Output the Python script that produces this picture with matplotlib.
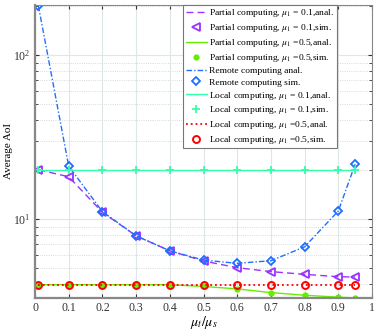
import numpy as np
import matplotlib.pyplot as plt
from matplotlib.ticker import LogLocator, NullFormatter

plt.rcParams['font.family'] = ['Liberation Serif', 'DejaVu Serif']
plt.rcParams['mathtext.fontset'] = 'stix'

# x values (mu_t / mu_s)
x = [0.01, 0.1, 0.2, 0.3, 0.4, 0.5, 0.6, 0.7, 0.8, 0.9, 0.95]
xticks = [0, 0.1, 0.2, 0.3, 0.4, 0.5, 0.6, 0.7, 0.8, 0.9, 1]
xticklabels = ['0', '0.1', '0.2', '0.3', '0.4', '0.5', '0.6', '0.7', '0.8', '0.9', '1']

# average AoI
partial_01 = [20.0, 18.1, 11.0, 7.9, 6.4, 5.55, 5.05, 4.78, 4.6, 4.45, 4.43]
partial_05 = [3.98, 3.98, 3.98, 3.98, 3.98, 3.88, 3.75, 3.56, 3.43, 3.34, 3.30]
remote = [200.0, 21.0, 11.1, 7.9, 6.4, 5.62, 5.37, 5.57, 6.77, 11.2, 21.6]
local_01 = [20.0] * 11
local_05 = [3.98] * 11

fig = plt.figure(figsize=(3.74, 3.32), dpi=100)
ax = fig.add_axes([0.0936, 0.1024, 0.9011, 0.8826])

c_purple = '#9933ff'
c_green = '#66ee00'
c_blue = '#1f6fff'
c_mint = '#33ffaa'
c_red = '#ff0000'

ax.plot(x, partial_01, '--', color=c_purple, lw=1.0, dashes=(5, 3),
        label=r'Partial computing, $\mu_1$ = 0.1,anal.')
ax.plot(x, partial_01, '<', color=c_purple, mfc='none', ms=5.5, mew=1.3, ls='none',
        label=r'Partial computing, $\mu_1$ = 0.1,sim.')
ax.plot(x, partial_05, '-', color=c_green, lw=1.0, label=r'Partial computing, $\mu_1$ =0.5,anal.')
ax.plot(x, partial_05, 'o', color=c_green, ms=3.5, ls='none',
        label=r'Partial computing, $\mu_1$ =0.5,sim.')
ax.plot(x, remote, '-.', color=c_blue, lw=1.0, dashes=(4, 1.5, 1, 1.5),
        label='Remote computing anal.')
ax.plot(x, remote, 'D', color=c_blue, mfc='none', ms=4.5, mew=1.3, ls='none',
        label='Remote computing sim.')
ax.plot(x, local_01, '-', color=c_mint, lw=1.0, label=r'Local computing, $\mu_1$ = 0.1,anal.')
ax.plot(x, local_01, '+', color=c_mint, ms=6, mew=1.3, ls='none',
        label=r'Local computing, $\mu_1$ = 0.1,sim.')
ax.plot(x, local_05, ':', color=c_red, lw=1.3, label=r'Local computing, $\mu_1$ =0.5,anal.')
ax.plot(x, local_05, 'o', color=c_red, mfc='none', ms=5, mew=1.4, ls='none',
        label=r'Local computing, $\mu_1$ =0.5,sim.')

ax.set_yscale('log')
ax.set_xlim(0, 1)
ax.set_ylim(3.30, 202)
ax.set_xticks(xticks)
ax.set_xticklabels(xticklabels)
ax.yaxis.set_minor_locator(LogLocator(base=10, subs=np.arange(2, 10)))
ax.yaxis.set_minor_formatter(NullFormatter())

ax.grid(True, which='major', color='#dfe6e6', lw=0.8)
ax.grid(True, which='minor', axis='y', color='#cccccc', lw=0.6, ls=':')
ax.set_axisbelow(True)

for s in ax.spines.values():
    s.set_color('#888888')
    s.set_linewidth(0.8)
ax.spines['left'].set_linewidth(1.6)
ax.spines['bottom'].set_linewidth(1.6)
ax.tick_params(which='both', direction='in', colors='#333333', labelsize=8.5,
               top=True, right=True, length=3, pad=3)
ax.tick_params(which='minor', length=2)

ax.set_xlabel(r'$\mu_t/\mu_s$', fontsize=10, labelpad=0)
ax.set_ylabel('Average AoI', fontsize=8, labelpad=0)

leg = ax.legend(loc='upper right', bbox_to_anchor=(0.896, 1.0), borderaxespad=0,
                fontsize=6.8, handlelength=2.2, handletextpad=0.3, labelspacing=0.3,
                borderpad=0.25, fancybox=False, framealpha=1, edgecolor='#777777')
leg.get_frame().set_linewidth(0.8)

fig.savefig('out.png', dpi=100)
